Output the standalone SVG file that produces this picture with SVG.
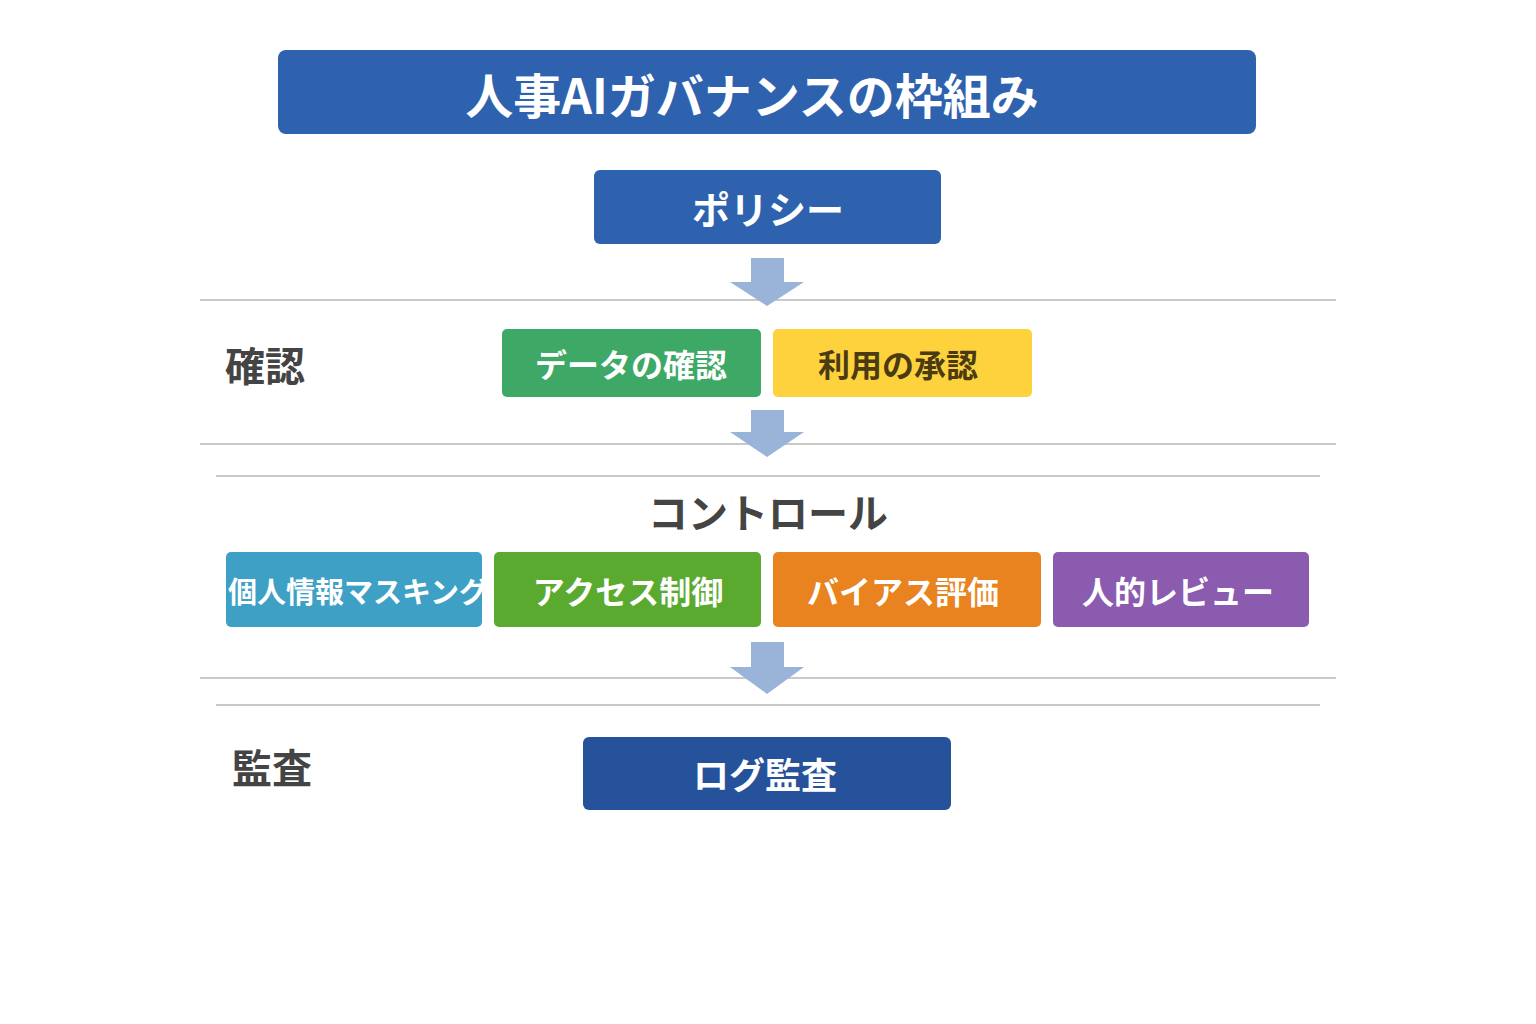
<svg xmlns="http://www.w3.org/2000/svg" width="1536" height="1024" viewBox="0 0 1536 1024">
<style>
.t{font-family:"Noto Sans CJK JP","Noto Sans",sans-serif;font-weight:bold;text-anchor:middle;dominant-baseline:central}
.w{fill:#fff}
.lbl{font-family:"Noto Sans CJK JP",sans-serif;font-weight:bold;fill:#444;font-size:40px;dominant-baseline:central}
.sep{stroke:#c8c8c8;stroke-width:2}
.arr{fill:#9ab4d9}
</style>
<rect width="1536" height="1024" fill="#fff"/>
<g id="title"><rect x="278" y="50" width="978" height="84" rx="8" fill="#2e62ae"/><text class="t w" x="752" y="93" font-size="48">人事AIガバナンスの枠組み</text></g>
<g id="policy"><rect x="594" y="170" width="347" height="74" rx="6" fill="#2e62ae"/><text class="t w" x="768" y="207" font-size="38">ポリシー</text></g>
<g id="separators">
<line class="sep" x1="200" y1="300" x2="1336" y2="300"/>
<line class="sep" x1="200" y1="444" x2="1336" y2="444"/>
<line class="sep" x1="216" y1="476" x2="1320" y2="476"/>
<line class="sep" x1="200" y1="678" x2="1336" y2="678"/>
<line class="sep" x1="216" y1="705" x2="1320" y2="705"/>
</g>
<g id="connectors">
<polygon class="arr" points="751,258 784,258 784,282 804,282 767,306 730,282 751,282"/>
<polygon class="arr" points="751,410 784,410 784,432 804,432 767,457 730,432 751,432"/>
<polygon class="arr" points="751,642 784,642 784,667 804,667 767,694 730,667 751,667"/>
</g>
<g id="label-kakunin"><text class="lbl" x="225" y="364">確認</text></g>
<g id="data"><rect x="502" y="329" width="259" height="68" rx="5" fill="#3ea866"/><text class="t w" x="631" y="363" font-size="32">データの確認</text></g>
<g id="approve"><rect x="773" y="329" width="259" height="68" rx="5" fill="#fdd23c"/><text class="t" x="898" y="363" font-size="32" fill="#4a3b12">利用の承認</text></g>
<g id="label-control"><text class="lbl" x="768" y="511" text-anchor="middle">コントロール</text></g>
<g id="mask"><rect x="226" y="552" width="256" height="75" rx="5" fill="#3fa0c6"/><text class="t w" x="358" y="590" font-size="29">個人情報マスキング</text></g>
<g id="access"><rect x="494" y="552" width="267" height="75" rx="5" fill="#5aaa2f"/><text class="t w" x="628" y="590" font-size="32">アクセス制御</text></g>
<g id="bias"><rect x="773" y="552" width="268" height="75" rx="5" fill="#e8831f"/><text class="t w" x="903" y="590" font-size="32">バイアス評価</text></g>
<g id="review"><rect x="1053" y="552" width="256" height="75" rx="5" fill="#8b5bb0"/><text class="t w" x="1178" y="590" font-size="32">人的レビュー</text></g>
<g id="label-audit"><text class="lbl" x="232" y="766">監査</text></g>
<g id="log"><rect x="583" y="737" width="368" height="73" rx="6" fill="#25529a"/><text class="t w" x="765" y="773" font-size="36">ログ監査</text></g>
</svg>
